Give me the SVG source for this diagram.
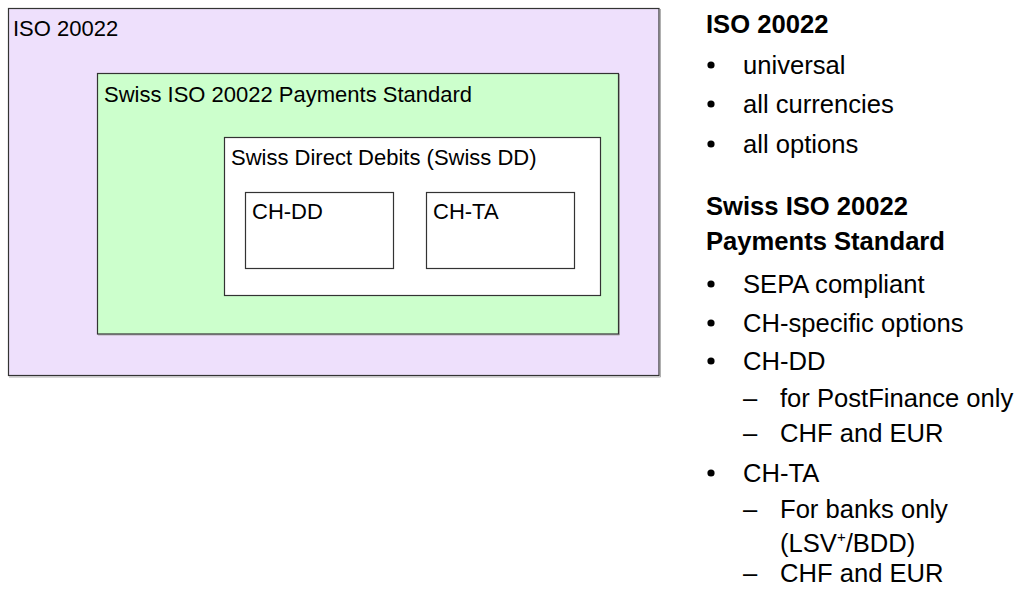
<svg xmlns="http://www.w3.org/2000/svg" width="1030" height="589" viewBox="0 0 1030 589">
  <style>
    .box { stroke: #333333; stroke-width: 1.2; }
    .shadow { fill: none; stroke: #b0b0b0; stroke-width: 1; }
    .lbl { font-family: "Liberation Sans", Arial, sans-serif; font-size: 22px; fill: #000; }
    .txt { font-family: "Liberation Sans", Arial, sans-serif; font-size: 25.6px; fill: #000; }
    .hd { font-family: "Liberation Sans", Arial, sans-serif; font-size: 25.6px; font-weight: bold; fill: #000; }
    .sup { font-size: 15px; }
  </style>
  <rect width="1030" height="589" fill="#ffffff"/>

  <!-- nested standard scopes -->
  <g id="iso20022">
    <polyline class="shadow" points="660.5,9 660.5,377 9,377"/>
    <rect class="box" x="8.5" y="8.5" width="650.5" height="367" fill="#EEE0FC"/>
    <text class="lbl" x="13" y="36">ISO 20022</text>
  </g>
  <g id="swiss-iso20022">
    <polyline class="shadow" points="619.5,74 619.5,335 98,335"/>
    <rect class="box" x="97.5" y="73.5" width="521" height="260.5" fill="#CCFFCC"/>
    <text class="lbl" x="104" y="102">Swiss ISO 20022 Payments Standard</text>
  </g>
  <g id="swiss-dd">
    <rect class="box" x="224.5" y="137.5" width="376" height="158" fill="#ffffff"/>
    <text class="lbl" x="231" y="165">Swiss Direct Debits (Swiss DD)</text>
  </g>
  <g id="ch-dd">
    <rect class="box" x="245.5" y="192.5" width="148" height="76" fill="#ffffff"/>
    <text class="lbl" x="252" y="219">CH-DD</text>
  </g>
  <g id="ch-ta">
    <rect class="box" x="426.5" y="192.5" width="148" height="76" fill="#ffffff"/>
    <text class="lbl" x="433" y="219">CH-TA</text>
  </g>
  <g id="connectors"/>

  <!-- legend -->
  <g id="legend">
    <text class="hd" x="706" y="33">ISO 20022</text>
    <circle cx="711" cy="65" r="3.6"/>
    <text class="txt" x="743" y="74">universal</text>
    <circle cx="711" cy="104" r="3.6"/>
    <text class="txt" x="743" y="113">all currencies</text>
    <circle cx="711" cy="144" r="3.6"/>
    <text class="txt" x="743" y="153">all options</text>

    <text class="hd" x="706" y="215">Swiss ISO 20022</text>
    <text class="hd" x="706" y="250">Payments Standard</text>
    <circle cx="711" cy="284" r="3.6"/>
    <text class="txt" x="743" y="293">SEPA compliant</text>
    <circle cx="711" cy="323" r="3.6"/>
    <text class="txt" x="743" y="332">CH-specific options</text>
    <circle cx="711" cy="361" r="3.6"/>
    <text class="txt" x="743" y="370">CH-DD</text>
    <text class="txt" x="743" y="407">–</text>
    <text class="txt" x="780" y="407">for PostFinance only</text>
    <text class="txt" x="743" y="442">–</text>
    <text class="txt" x="780" y="442">CHF and EUR</text>
    <circle cx="711" cy="473" r="3.6"/>
    <text class="txt" x="743" y="482">CH-TA</text>
    <text class="txt" x="743" y="518">–</text>
    <text class="txt" x="780" y="518">For banks only</text>
    <text class="txt" x="780" y="552">(LSV<tspan class="sup" dy="-10">+</tspan><tspan dy="10">/BDD)</tspan></text>
    <text class="txt" x="743" y="582">–</text>
    <text class="txt" x="780" y="582">CHF and EUR</text>
  </g>
</svg>
